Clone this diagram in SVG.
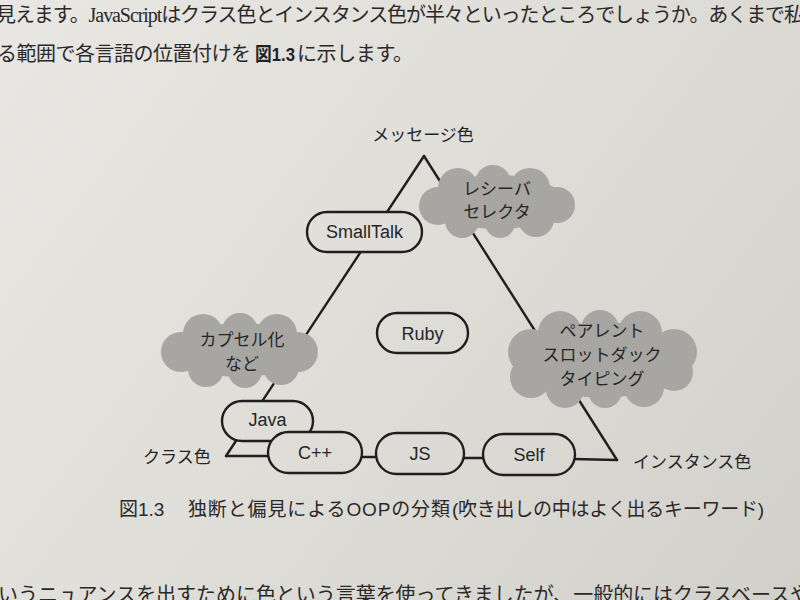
<svg xmlns="http://www.w3.org/2000/svg" width="800" height="600" viewBox="0 0 800 600">
  <defs>
    <linearGradient id="paper" gradientUnits="userSpaceOnUse" x1="0" y1="0" x2="800" y2="600">
      <stop offset="0" stop-color="#e8e7e3"/>
      <stop offset="0.5" stop-color="#dfddd8"/>
      <stop offset="1" stop-color="#d2d0cb"/>
    </linearGradient>
    <style>
      .body { font-family: "Liberation Serif", "Noto Sans CJK JP", serif; font-size: 20px; fill: #2a2928; }
      .bold { font-family: "Liberation Sans", "Noto Sans CJK JP", sans-serif; font-size: 19px; font-weight: bold; fill: #222; }
      .cap { font-family: "Liberation Sans", "Noto Sans CJK JP", sans-serif; font-size: 19px; fill: #2a2928; }
      .jp { font-family: "Noto Sans CJK JP", sans-serif; font-size: 17px; fill: #262626; text-anchor: middle; }
      .lbl { font-family: "Noto Sans CJK JP", sans-serif; font-size: 17px; fill: #262626; }
      .pill { fill: url(#paper); stroke: #1f1f1f; stroke-width: 2.4; }
      .ptxt { font-family: "Liberation Sans", "Noto Sans CJK JP", sans-serif; font-size: 18px; fill: #262626; text-anchor: middle; }
      .cloud { fill: #a7a6a3; }
      .edge { stroke: #1f1f1f; stroke-width: 2.4; fill: none; stroke-linecap: round; }
    </style>
  </defs>

  <rect x="0" y="0" width="800" height="600" fill="url(#paper)"/>

  <!-- body text -->
  <text class="body" x="-4" y="22" textLength="808" lengthAdjust="spacing">見えます。JavaScriptはクラス色とインスタンス色が半々といったところでしょうか。あくまで私</text>
  <text class="body" x="-3" y="61" textLength="254" lengthAdjust="spacing">る範囲で各言語の位置付けを</text>
  <text class="bold" x="255" y="61" textLength="40" lengthAdjust="spacingAndGlyphs">図1.3</text>
  <text class="body" x="297" y="61" textLength="116" lengthAdjust="spacing">に示します。</text>
  <text class="body" x="-2" y="602" textLength="812" lengthAdjust="spacing">いうニュアンスを出すために色という言葉を使ってきましたが、一般的にはクラスベースや</text>

  <!-- connectors -->
  <g id="connectors">
    <line class="edge" x1="424" y1="156" x2="226" y2="456"/>
    <line class="edge" x1="424" y1="156" x2="617" y2="460"/>
    <line class="edge" x1="226" y1="456" x2="280" y2="456"/>
    <line class="edge" x1="360" y1="457" x2="378" y2="457"/>
    <line class="edge" x1="462" y1="458" x2="485" y2="458"/>
    <line class="edge" x1="573" y1="459" x2="617" y2="460"/>
  </g>

  <!-- clouds -->
  <g id="cloud-receiver">
    <g class="cloud">
      <ellipse cx="497" cy="202" rx="68" ry="27"/>
      <circle cx="458" cy="188" r="20"/>
      <circle cx="493" cy="183" r="18"/>
      <circle cx="530" cy="188" r="20"/>
      <circle cx="557" cy="205" r="18"/>
      <circle cx="438" cy="206" r="19"/>
      <circle cx="462" cy="221" r="17"/>
      <circle cx="500" cy="223" r="15"/>
      <circle cx="536" cy="219" r="18"/>
    </g>
    <text class="jp" x="497" y="195">レシーバ</text>
    <text class="jp" x="497" y="218">セレクタ</text>
  </g>

  <g id="cloud-encapsulation">
    <g class="cloud">
      <ellipse cx="240" cy="350" rx="66" ry="27"/>
      <circle cx="203" cy="334" r="20"/>
      <circle cx="240" cy="331" r="18"/>
      <circle cx="277" cy="334" r="20"/>
      <circle cx="298" cy="352" r="20"/>
      <circle cx="181" cy="352" r="20"/>
      <circle cx="206" cy="369" r="18"/>
      <circle cx="245" cy="371" r="17"/>
      <circle cx="281" cy="367" r="18"/>
    </g>
    <text class="jp" x="242" y="346">カプセル化</text>
    <text class="jp" x="242" y="370">など</text>
  </g>

  <g id="cloud-parent">
    <g class="cloud">
      <ellipse cx="602" cy="360" rx="82" ry="38"/>
      <circle cx="560" cy="333" r="22"/>
      <circle cx="600" cy="329" r="19"/>
      <circle cx="640" cy="333" r="22"/>
      <circle cx="674" cy="352" r="23"/>
      <circle cx="531" cy="352" r="23"/>
      <circle cx="531" cy="377" r="21"/>
      <circle cx="565" cy="389" r="19"/>
      <circle cx="605" cy="391" r="17"/>
      <circle cx="644" cy="387" r="20"/>
      <circle cx="674" cy="372" r="19"/>
    </g>
    <text class="jp" x="602" y="337">ペアレント</text>
    <text class="jp" x="602" y="361">スロットダック</text>
    <text class="jp" x="602" y="385">タイピング</text>
  </g>

  <!-- language nodes -->
  <g id="node-smalltalk">
    <rect class="pill" x="307" y="212" width="115" height="40" rx="20"/>
    <text class="ptxt" x="364.5" y="238">SmallTalk</text>
  </g>
  <g id="node-ruby">
    <rect class="pill" x="377" y="313" width="91" height="40" rx="20"/>
    <text class="ptxt" x="422.5" y="340">Ruby</text>
  </g>
  <g id="node-java">
    <rect class="pill" x="222" y="401" width="91" height="40" rx="20"/>
    <text class="ptxt" x="267.5" y="426">Java</text>
  </g>
  <g id="node-cpp">
    <rect class="pill" x="268" y="432" width="94" height="41" rx="20.5"/>
    <text class="ptxt" x="315" y="459">C++</text>
  </g>
  <g id="node-js">
    <rect class="pill" x="376" y="433" width="88" height="41" rx="20.5"/>
    <text class="ptxt" x="420" y="460">JS</text>
  </g>
  <g id="node-self">
    <rect class="pill" x="483" y="434" width="92" height="41" rx="20.5"/>
    <text class="ptxt" x="529" y="461">Self</text>
  </g>

  <!-- corner labels -->
  <g id="label-message">
    <text class="lbl" x="423" y="141" text-anchor="middle">メッセージ色</text>
  </g>
  <g id="label-class">
    <text class="lbl" x="143" y="463">クラス色</text>
  </g>
  <g id="label-instance">
    <text class="lbl" x="633" y="468">インスタンス色</text>
  </g>

  <!-- caption -->
  <text class="cap" x="119" y="516">図1.3</text>
  <text class="cap" x="188" y="516" textLength="262" lengthAdjust="spacing">独断と偏見によるOOPの分類</text>
  <text class="cap" x="452" y="516" textLength="312" lengthAdjust="spacing">(吹き出しの中はよく出るキーワード)</text>
</svg>
